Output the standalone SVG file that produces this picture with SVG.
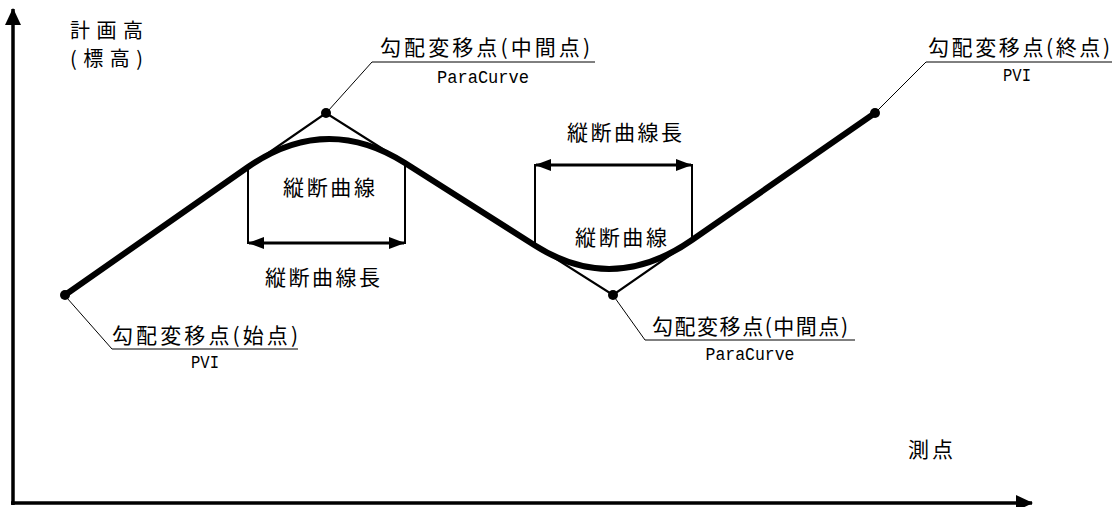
<svg xmlns="http://www.w3.org/2000/svg" width="1115" height="507" viewBox="0 0 1115 507">
<style>
.jp{font-family:"Noto Sans CJK JP","Noto Sans",sans-serif;fill:#000}
.lbl{font-size:21px}
.big{font-size:21px}
.mono{font-family:"Liberation Mono","DejaVu Sans Mono",monospace;font-size:19px;fill:#000}
.thin{stroke:#000;stroke-width:1;fill:none}
.tan{stroke:#000;stroke-width:2.2;fill:none}
.dim{stroke:#000;stroke-width:2;fill:none}
.ax{stroke:#000;stroke-width:3.5;fill:none}
</style>
<defs>
<marker id="ah" viewBox="0 0 16 12" refX="15" refY="6" markerWidth="16" markerHeight="12" markerUnits="userSpaceOnUse" orient="auto-start-reverse">
<path d="M0,0 L16,6 L0,12 Z" fill="#000"/>
</marker>
<marker id="axh" viewBox="0 0 17 16" refX="16" refY="8" markerWidth="17" markerHeight="16" markerUnits="userSpaceOnUse" orient="auto">
<path d="M0,0 L17,8 L0,16 Z" fill="#000"/>
</marker>
</defs>
<rect width="1115" height="507" fill="#fff"/>

<g id="axes">
<line class="ax" x1="13" y1="505" x2="13" y2="9" marker-end="url(#axh)"/>
<line class="ax" x1="11" y1="503" x2="1032" y2="503" marker-end="url(#axh)"/>
<text class="jp" x="70" y="38" font-size="20" textLength="73" lengthAdjust="spacing">計画高</text>
<text class="jp" x="70" y="66" font-size="20" textLength="73" lengthAdjust="spacing">(標高)</text>
<text class="jp" x="908" y="457" font-size="21" textLength="45" lengthAdjust="spacing">測点</text>
</g>

<g id="connectors">
<path class="tan" d="M248,167 L326,113 L405,163"/>
<path class="tan" d="M535,245.5 L613,295 L692,240"/>
<path d="M65,295 L248,167 Q326,113 405,163 L535,245.5 Q613,295 692,240 L875,113" stroke="#000" stroke-width="6" fill="none" stroke-linejoin="round" stroke-linecap="round"/>
<path class="dim" d="M248,167 V244 M405,163 V244"/>
<path class="dim" d="M535,245 V164 M692,240 V164"/>
<line x1="249" y1="243" x2="404" y2="243" stroke="#000" stroke-width="3" marker-start="url(#ah)" marker-end="url(#ah)"/>
<line x1="536" y1="165" x2="691" y2="165" stroke="#000" stroke-width="3" marker-start="url(#ah)" marker-end="url(#ah)"/>
<path class="thin" d="M67,298 L112,349 H298"/>
<path class="thin" d="M328,111 L372,62 H595"/>
<path class="thin" d="M615,298 L645,340 H855"/>
<path class="thin" d="M877,111 L926,62 H1112"/>
</g>

<g id="pvi-start">
<circle cx="65" cy="295" r="5" fill="#000"/>
<text class="jp lbl" x="112" y="343" textLength="186" lengthAdjust="spacing">勾配変移点(始点)</text>
<text class="mono" x="205" y="368" text-anchor="middle" textLength="28" lengthAdjust="spacingAndGlyphs">PVI</text>
</g>

<g id="pvi-mid1">
<circle cx="326" cy="113" r="5" fill="#000"/>
<text class="jp lbl" x="380" y="55" textLength="210" lengthAdjust="spacing">勾配変移点(中間点)</text>
<text class="mono" x="483" y="83" text-anchor="middle" textLength="92" lengthAdjust="spacingAndGlyphs">ParaCurve</text>
</g>

<g id="pvi-mid2">
<circle cx="613" cy="295" r="5" fill="#000"/>
<text class="jp lbl" x="652" y="334" textLength="196" lengthAdjust="spacing">勾配変移点(中間点)</text>
<text class="mono" x="750" y="360" text-anchor="middle" textLength="89" lengthAdjust="spacingAndGlyphs">ParaCurve</text>
</g>

<g id="pvi-end">
<circle cx="875" cy="113" r="5" fill="#000"/>
<text class="jp lbl" x="928" y="55" textLength="182" lengthAdjust="spacing">勾配変移点(終点)</text>
<text class="mono" x="1017" y="81" text-anchor="middle" textLength="28" lengthAdjust="spacingAndGlyphs">PVI</text>
</g>

<g id="curve1">
<text class="jp big" x="283" y="195" textLength="92" lengthAdjust="spacing">縦断曲線</text>
<text class="jp big" x="265" y="285" textLength="115" lengthAdjust="spacing">縦断曲線長</text>
</g>

<g id="curve2">
<text class="jp big" x="567" y="140" textLength="115" lengthAdjust="spacing">縦断曲線長</text>
<text class="jp big" x="575" y="245" textLength="92" lengthAdjust="spacing">縦断曲線</text>
</g>
</svg>
